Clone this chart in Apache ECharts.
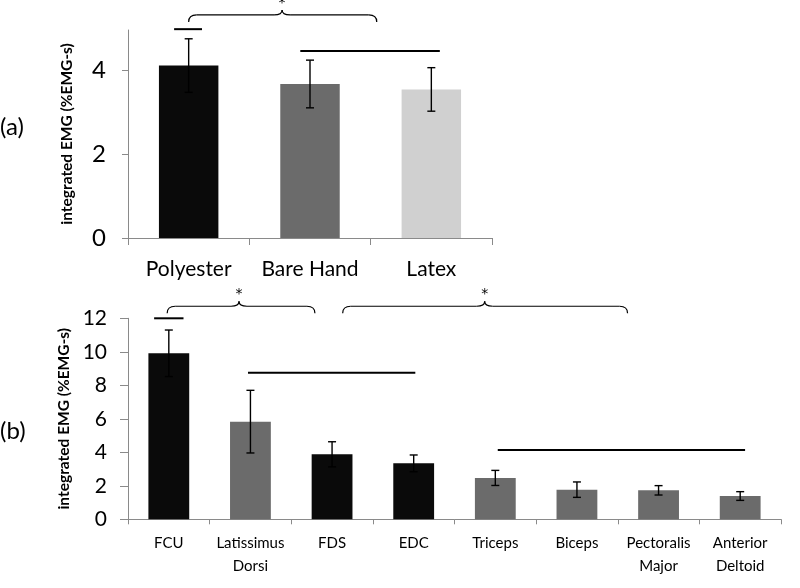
<!DOCTYPE html>
<html><head><meta charset="utf-8">
<script src="https://cdn.jsdelivr.net/npm/echarts@6/dist/echarts.min.js"></script>
<style>html,body{margin:0;padding:0;background:#fff}#c{width:800px;height:588px}</style>
</head><body><div id="c"></div>
<script>
// ---- data ----
const topCategories = ['Polyester', 'Bare Hand', 'Latex'];
const topValues = [4.12, 3.68, 3.55];
const topErrors = [0.64, 0.57, 0.52];
const topTicks = [0, 2, 4];

const bottomCategories = ['FCU', 'Latissimus\nDorsi', 'FDS', 'EDC', 'Triceps', 'Biceps', 'Pectoralis\nMajor', 'Anterior\nDeltoid'];
const bottomValues = [9.91, 5.83, 3.88, 3.34, 2.47, 1.77, 1.73, 1.39];
const bottomErrors = [1.39, 1.87, 0.75, 0.50, 0.45, 0.46, 0.28, 0.26];
const bottomTicks = [0, 2, 4, 6, 8, 10, 12];

// significance annotations (category units, value units)
const topLines = [[-0.12, 0.11, 4.99], [0.92, 2.07, 4.47]];
const topBraces = [[0.0, 1.55, 0.77, 5.33]];
const bottomLines = [[-0.18, 0.18, 12.0], [0.97, 3.02, 8.75], [4.03, 7.06, 4.14]];
const bottomBraces = [[-0.02, 1.79, 0.86, 12.72], [2.13, 5.62, 3.87, 12.72]];

// ---- styles ----
const BLACK = '#0a0a0a', GRAY = '#6b6b6b', LIGHT = '#d0d0d0';
const topColors = [BLACK, GRAY, LIGHT];
const bottomColors = [BLACK, GRAY, BLACK, BLACK, GRAY, GRAY, GRAY, GRAY];
const AXIS = '#8a8a8a';
const FONT = 'Lato';

const chart = echarts.init(document.getElementById('c'), null, {renderer: 'canvas'});

function errSeries(gi, vals, errs) {
  return {
    type: 'custom', xAxisIndex: gi, yAxisIndex: gi, z: 5,
    data: vals.map((v, i) => [i, v + errs[i], v - errs[i]]),
    encode: {x: 0, y: [1, 2]},
    renderItem: function (params, api) {
      const x = api.value(0);
      const hi = api.coord([x, api.value(1)]);
      const lo = api.coord([x, api.value(2)]);
      const hw = 4;
      const st = {stroke: '#000', lineWidth: 1.4};
      return {type: 'group', children: [
        {type: 'line', shape: {x1: hi[0], y1: hi[1], x2: lo[0], y2: lo[1]}, style: st},
        {type: 'line', shape: {x1: hi[0] - hw, y1: hi[1], x2: hi[0] + hw, y2: hi[1]}, style: st},
        {type: 'line', shape: {x1: lo[0] - hw, y1: lo[1], x2: lo[0] + hw, y2: lo[1]}, style: st}
      ]};
    }
  };
}

function valueAxis(gi, max, ticks, labelSize, tickLen, margin) {
  return {
    type: 'value', gridIndex: gi, min: 0, max: max,
    name: 'integrated EMG (%EMG-s)', nameLocation: 'middle', nameGap: 53,
    nameTextStyle: {fontFamily: FONT, fontWeight: 'bold', fontSize: 15.5, color: '#000'},
    axisLine: {show: true, lineStyle: {color: AXIS, width: 1}},
    axisTick: {show: true, length: tickLen, lineStyle: {color: AXIS}, customValues: ticks},
    axisLabel: {fontFamily: FONT, fontSize: labelSize, color: '#000', margin: margin, customValues: ticks},
    splitLine: {show: false}
  };
}

function catAxis(gi, cats, size, margin, tickLen, lh) {
  return {
    type: 'category', gridIndex: gi, data: cats,
    axisLine: {show: true, lineStyle: {color: AXIS, width: 1}},
    axisTick: {show: true, length: tickLen, lineStyle: {color: AXIS}},
    axisLabel: {fontFamily: FONT, fontSize: size, color: '#000', margin: margin, interval: 0, lineHeight: lh}
  };
}

chart.setOption({
  animation: false,
  backgroundColor: '#fff',
  grid: [
    {left: 128, top: 30, width: 364, height: 208},
    {left: 128, top: 318.3, width: 653, height: 201}
  ],
  xAxis: [
    catAxis(0, topCategories, 21, 18, 7, 26),
    catAxis(1, bottomCategories, 15, 12, 5, 23)
  ],
  yAxis: [
    valueAxis(0, 4.97, topTicks, 24, 6, 22),
    valueAxis(1, 12, bottomTicks, 21, 8, 21)
  ],
  series: [
    {type: 'bar', xAxisIndex: 0, yAxisIndex: 0, barWidth: '49%',
     data: topValues.map((v, i) => ({value: v, itemStyle: {color: topColors[i]}}))},
    errSeries(0, topValues, topErrors),
    {type: 'bar', xAxisIndex: 1, yAxisIndex: 1, barWidth: '50%',
     data: bottomValues.map((v, i) => ({value: v, itemStyle: {color: bottomColors[i]}}))},
    errSeries(1, bottomValues, bottomErrors)
  ]
});

function px(gi, x, y) {
  const a = chart.convertToPixel({xAxisIndex: gi}, 0);
  const b = chart.convertToPixel({xAxisIndex: gi}, 1);
  return [a + (b - a) * x, chart.convertToPixel({yAxisIndex: gi}, y)];
}

const elements = [];
function seg(x1, y1, x2, y2, w) {
  elements.push({type: 'line', shape: {x1: x1, y1: y1, x2: x2, y2: y2},
    style: {stroke: '#000', lineWidth: w}, z: 10});
}
function curve(x1, y1, cx, cy, x2, y2) {
  elements.push({type: 'bezierCurve', shape: {x1: x1, y1: y1, x2: x2, y2: y2, cpx1: cx, cpy1: cy},
    style: {stroke: '#000', lineWidth: 1.2, fill: null}, z: 10});
}
function addLines(gi, lines) {
  lines.forEach(l => {
    const p0 = px(gi, l[0], l[2]), p1 = px(gi, l[1], l[2]);
    seg(p0[0], p0[1], p1[0], p1[1], 2);
  });
}
function addBraces(gi, braces) {
  braces.forEach(b => {
    const p0 = px(gi, b[0], b[3]), p1 = px(gi, b[1], b[3]), pm = px(gi, b[2], b[3]);
    const y = p0[1], x0 = p0[0], x1 = p1[0], xm = pm[0];
    curve(x0, y + 7, x0, y, x0 + 8, y);
    seg(x0 + 8, y, xm - 8, y, 1.2);
    curve(xm - 8, y, xm, y, xm, y - 5);
    curve(xm, y - 5, xm, y, xm + 8, y);
    seg(xm + 8, y, x1 - 8, y, 1.2);
    curve(x1 - 8, y, x1, y, x1, y + 7);
    elements.push({type: 'text', x: xm, y: y - 12,
      style: {text: '*', fontFamily: 'DejaVu Sans', fontSize: 14, fill: '#000', align: 'center', verticalAlign: 'middle'}, z: 10});
  });
}
addLines(0, topLines); addBraces(0, topBraces);
addLines(1, bottomLines); addBraces(1, bottomBraces);

const yA = chart.convertToPixel({yAxisIndex: 0}, 2.65);
const yB = chart.convertToPixel({yAxisIndex: 1}, 5.23);
elements.push({type: 'text', x: 0, y: yA,
  style: {text: '(a)', fontFamily: FONT, fontSize: 24, fill: '#000', align: 'left', verticalAlign: 'middle'}});
elements.push({type: 'text', x: 0, y: yB,
  style: {text: '(b)', fontFamily: FONT, fontSize: 24, fill: '#000', align: 'left', verticalAlign: 'middle'}});

chart.setOption({graphic: {elements: elements}});
</script>
</body></html>
